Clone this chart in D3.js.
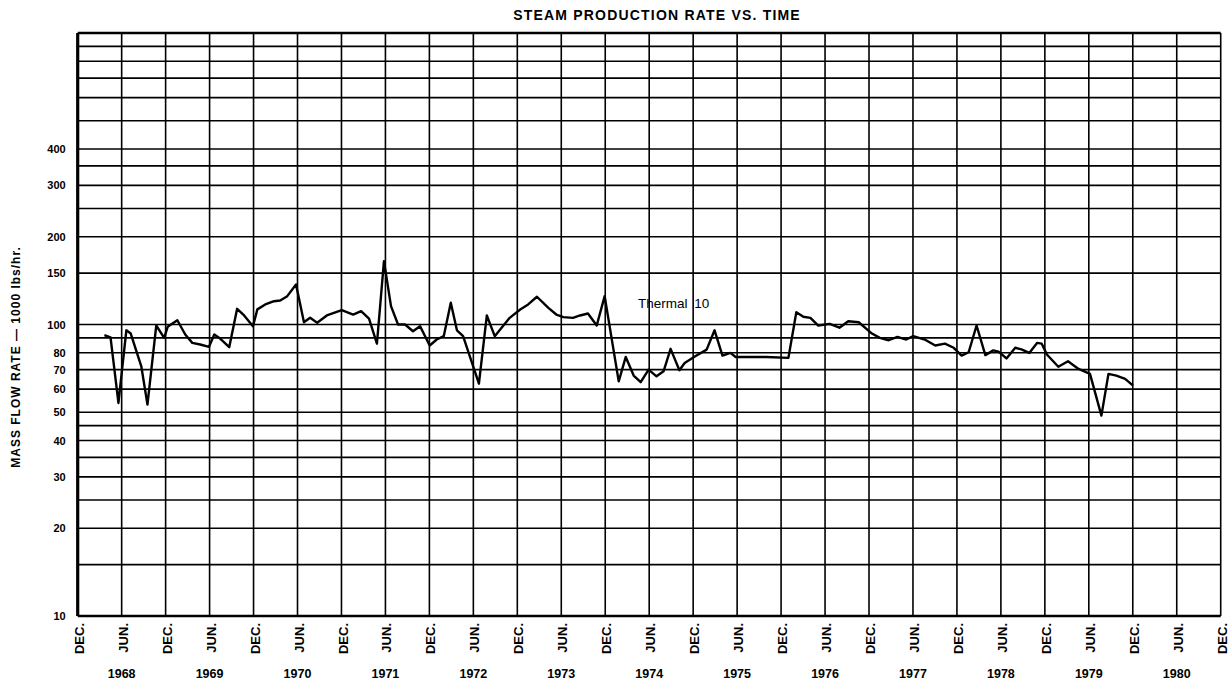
<!DOCTYPE html>
<html>
<head>
<meta charset="utf-8">
<script src="https://cdn.jsdelivr.net/npm/d3@7"></script>
<style>
  body { margin: 0; background: #fff; }
  svg text { font-family: "Liberation Sans", Arial, sans-serif; fill: #000; }
</style>
</head>
<body>
<div id="chart"></div>
<script>
// steam production, decimal year vs 1000 lbs/hr
const years = [
  1968.22, 1968.29, 1968.38, 1968.47, 1968.52, 1968.64, 1968.71, 1968.81, 1968.90, 1968.94,
  1969.05, 1969.14, 1969.22, 1969.31, 1969.41, 1969.47, 1969.54, 1969.64, 1969.73, 1969.80,
  1969.91, 1969.96, 1970.05, 1970.15, 1970.22, 1970.30, 1970.40, 1970.49, 1970.56, 1970.64,
  1970.75, 1970.92, 1971.05, 1971.14, 1971.23, 1971.32, 1971.40, 1971.48, 1971.56, 1971.64,
  1971.73, 1971.81, 1971.92, 1972.00, 1972.08, 1972.16, 1972.23, 1972.30, 1972.48, 1972.57,
  1972.66, 1972.83, 1972.95, 1973.04, 1973.14, 1973.27, 1973.36, 1973.44, 1973.55, 1973.63,
  1973.72, 1973.82, 1973.91, 1974.07, 1974.15, 1974.24, 1974.32, 1974.41, 1974.50, 1974.58,
  1974.66, 1974.76, 1974.82, 1974.94, 1975.07, 1975.16, 1975.25, 1975.34, 1975.40, 1975.75,
  1976.00, 1976.09, 1976.17, 1976.25, 1976.34, 1976.47, 1976.58, 1976.68, 1976.80, 1976.95,
  1977.04, 1977.14, 1977.24, 1977.34, 1977.42, 1977.55, 1977.67, 1977.78, 1977.88, 1977.97,
  1978.05, 1978.14, 1978.24, 1978.33, 1978.39, 1978.48, 1978.58, 1978.65, 1978.74, 1978.83,
  1978.88, 1978.94, 1979.07, 1979.18, 1979.30, 1979.43, 1979.56, 1979.64, 1979.73, 1979.83,
  1979.92
];
const flow = [
  91.9, 90.4, 53.8, 95.5, 93.1, 71.9, 53.1, 99.2, 90.0, 98.2,
  103.4, 92.4, 86.5, 85.4, 83.8, 92.4, 89.3, 83.6, 113.2, 108.2,
  98.7, 112.7, 117.2, 120.2, 120.9, 125.1, 137.2, 101.8, 105.4, 101.4,
  107.4, 112.0, 108.2, 111.1, 104.7, 86.0, 165.0, 115.6, 100.0, 100.0,
  94.8, 98.7, 84.7, 88.8, 91.2, 118.8, 95.5, 91.2, 62.7, 107.4,
  91.2, 105.4, 112.6, 117.2, 124.5, 114.1, 108.2, 106.0, 105.4, 107.4,
  109.1, 99.2, 125.1, 63.8, 77.4, 66.8, 63.4, 70.0, 66.4, 69.1,
  82.5, 69.7, 73.8, 77.8, 82.0, 95.5, 78.2, 79.9, 77.4, 77.4,
  76.8, 110.2, 106.3, 105.4, 99.2, 100.5, 97.5, 102.6, 101.8, 93.1,
  90.0, 88.3, 90.7, 88.8, 91.2, 88.8, 84.7, 86.0, 83.2, 78.2,
  80.3, 99.2, 78.5, 81.5, 80.7, 76.5, 83.2, 82.2, 79.9, 86.5,
  86.0, 78.9, 71.6, 74.8, 70.4, 67.7, 48.7, 67.7, 66.8, 65.1,
  61.7
];

const gridValues = [10, 15, 20, 25, 30, 35, 40, 45, 50, 60, 70, 80, 90, 100,
  150, 200, 250, 300, 350, 400, 500, 600, 700, 800, 900, 1000];
const yTickLabels = [10, 20, 30, 40, 50, 60, 70, 80, 100, 150, 200, 300, 400];
const monthTicks = d3.range(0, 27).map(k => 1967 + 11 / 12 + k * 0.5);
const monthNames = ["DEC.", "JUN."];
const yearLabels = d3.range(1968, 1981);

const width = 1230, height = 686;
const plotLeft = 77.7, plotRight = 1220.7, plotTop = 33, plotBottom = 616;

const svg = d3.select("#chart").append("svg")
  .attr("width", width)
  .attr("height", height);

const x = d3.scaleLinear()
  .domain([1967 + 11 / 12, 1980 + 11 / 12])
  .range([plotLeft, plotRight]);
const y = d3.scaleLog()
  .domain([10, 1000])
  .range([plotBottom, plotTop]);

// horizontal grid
svg.append("g").selectAll("line")
  .data(gridValues)
  .join("line")
  .attr("x1", plotLeft).attr("x2", plotRight)
  .attr("y1", d => y(d)).attr("y2", d => y(d))
  .attr("stroke", "#000")
  .attr("stroke-width", d => (d === 10 || d === 1000) ? 2.4 : 1.6);

// vertical grid
svg.append("g").selectAll("line")
  .data(monthTicks)
  .join("line")
  .attr("x1", d => x(d)).attr("x2", d => x(d))
  .attr("y1", plotTop).attr("y2", plotBottom)
  .attr("stroke", "#000")
  .attr("stroke-width", (d, i) => i === 0 ? 3.2 : 1.6);

// y tick labels
const yAxis = svg.append("g")
  .attr("transform", `translate(${plotLeft - 12},0)`)
  .call(d3.axisLeft(y).tickValues(yTickLabels).tickSize(0).tickPadding(0).tickFormat(d3.format("d")));
yAxis.select(".domain").remove();
yAxis.selectAll("text")
  .style("font-size", "11px")
  .style("font-weight", "bold");

// month labels along bottom, rotated
const xAxis = svg.append("g")
  .attr("transform", `translate(0,${plotBottom})`)
  .call(d3.axisBottom(x).tickValues(monthTicks).tickSize(0).tickFormat((d, i) => monthNames[i % 2]));
xAxis.select(".domain").remove();
xAxis.selectAll("text")
  .attr("transform", "rotate(-90)")
  .attr("x", -7)
  .attr("y", 1)
  .attr("dy", "0.35em")
  .attr("text-anchor", "end")
  .style("font-size", "13px")
  .style("font-weight", "bold");

// year labels under the JUN ticks
svg.append("g").selectAll("text")
  .data(yearLabels)
  .join("text")
  .attr("x", d => x(d + 5 / 12))
  .attr("y", 678)
  .attr("text-anchor", "middle")
  .style("font-size", "12.5px")
  .style("font-weight", "bold")
  .text(d => d);

// title
svg.append("text")
  .attr("x", 657)
  .attr("y", 19.5)
  .attr("text-anchor", "middle")
  .style("font-size", "14px")
  .style("font-weight", "bold")
  .style("letter-spacing", "1.2px")
  .text("STEAM PRODUCTION RATE VS. TIME");

// y axis title
svg.append("text")
  .attr("transform", "translate(19.5,357) rotate(-90)")
  .attr("text-anchor", "middle")
  .style("font-size", "12px")
  .style("font-weight", "bold")
  .style("letter-spacing", "1px")
  .text("MASS FLOW RATE \u2014 1000 lbs/hr.");

// data line
const line = d3.line()
  .x((d, i) => x(years[i]))
  .y(d => y(d));

svg.append("path")
  .datum(flow)
  .attr("d", line)
  .attr("fill", "none")
  .attr("stroke", "#000")
  .attr("stroke-width", 2.4)
  .attr("stroke-linejoin", "round");

svg.append("text")
  .attr("x", 638)
  .attr("y", 308)
  .style("font-size", "13.5px")
  .style("word-spacing", "3px")
  .text("Thermal 10");
</script>
</body>
</html>
